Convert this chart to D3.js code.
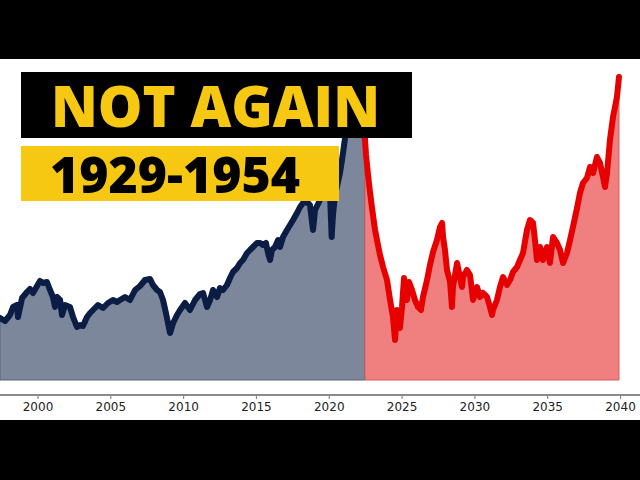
<!DOCTYPE html>
<html>
<head>
<meta charset="utf-8">
<script src="https://cdn.jsdelivr.net/npm/d3@7"></script>
<style>
  html, body { margin: 0; padding: 0; background: #fff; }
  svg { display: block; }
</style>
</head>
<body>
<svg id="chart" width="640" height="480"></svg>
<script>
// ---- data ----
const pastYears = [1997.43,1997.77,1998.11,1998.32,1998.59,1998.66,1998.94,1999.28,1999.48,1999.69,1999.97,2000.17,2000.38,2000.65,2000.86,2001.06,2001.20,2001.34,2001.55,2001.68,2001.89,2002.23,2002.44,2002.71,2002.92,2003.12,2003.40,2003.61,2003.95,2004.15,2004.50,2004.84,2005.18,2005.46,2005.67,2006.01,2006.35,2006.70,2007.04,2007.38,2007.73,2007.93,2008.21,2008.41,2008.62,2008.82,2008.96,2009.10,2009.31,2009.58,2009.79,2010.13,2010.47,2010.82,2011.16,2011.37,2011.64,2011.85,2012.05,2012.33,2012.53,2012.74,2013.01,2013.22,2013.42,2013.70,2013.91,2014.11,2014.39,2014.59,2014.80,2015.07,2015.28,2015.48,2015.69,2015.83,2015.97,2016.10,2016.31,2016.52,2016.65,2016.86,2017.13,2017.34,2017.55,2017.82,2018.03,2018.23,2018.51,2018.71,2018.92,2019.06,2019.40,2019.74,2020.09,2020.20,2020.29,2020.43,2020.77,2020.91,2021.12,2021.46,2021.80,2022.01,2022.28,2022.49];
const pastValues = [62,59,65,73,75,63,82,88,91,87,94,99,97,98,90,83,73,83,80,65,75,73,63,53,55,54,63,67,72,75,72,77,80,78,80,83,80,90,94,100,101,95,90,88,80,67,57,47,57,65,70,77,70,80,86,87,73,80,90,83,92,90,95,102,108,112,117,120,127,130,133,137,137,135,137,127,120,130,133,140,133,143,150,155,160,167,173,177,178,175,150,170,180,190,185,143,165,185,207,220,242,270,292,305,270,240];

const futureYears = [2022.49,2022.56,2022.70,2022.83,2022.97,2023.18,2023.38,2023.52,2023.73,2024.00,2024.21,2024.41,2024.55,2024.69,2024.89,2025.03,2025.17,2025.37,2025.51,2025.72,2025.92,2026.13,2026.33,2026.47,2026.75,2026.95,2027.16,2027.43,2027.64,2027.78,2027.85,2027.98,2028.12,2028.33,2028.46,2028.53,2028.81,2029.01,2029.15,2029.22,2029.49,2029.70,2029.91,2030.18,2030.39,2030.59,2030.87,2031.07,2031.21,2031.28,2031.55,2031.76,2031.97,2032.24,2032.45,2032.65,2032.93,2033.13,2033.34,2033.61,2033.82,2034.03,2034.16,2034.30,2034.51,2034.71,2034.99,2035.19,2035.40,2035.67,2035.88,2036.09,2036.36,2036.57,2036.77,2037.05,2037.25,2037.46,2037.73,2037.94,2038.15,2038.42,2038.63,2038.83,2038.97,2039.11,2039.31,2039.52,2039.79,2039.93];
const futureValues = [240,225,205,188,172,150,135,125,113,100,80,63,40,70,52,73,102,80,98,90,80,73,70,83,100,115,128,140,153,157,143,130,110,98,73,93,117,103,93,103,110,105,80,93,83,87,83,73,65,70,80,93,103,95,100,108,113,120,127,150,160,157,140,120,133,120,133,117,143,137,130,117,127,140,153,172,187,197,202,213,207,223,217,203,193,207,240,263,283,303];

const tickYears = [2000,2005,2010,2015,2020,2025,2030,2035,2040];
const titleText = "NOT AGAIN";
const subtitleText = "1929-1954";

// ---- drawing ----
const svg = d3.select("#chart");

const x = d3.scaleLinear().domain([2000, 2040]).range([37.5, 620]);
const y = d3.scaleLinear().domain([0, 310]).range([380, 70]);

const past = pastYears.map((d, i) => ({ t: d, v: pastValues[i] }));
const future = futureYears.map((d, i) => ({ t: d, v: futureValues[i] }));

const area = d3.area().x(d => x(d.t)).y0(y(0)).y1(d => y(d.v));
const line = d3.line().x(d => x(d.t)).y(d => y(d.v));

const plot = svg.append("g");

plot.append("path").datum(past)
  .attr("d", area)
  .attr("fill", "#7c879c")
  .attr("stroke", "#56627c")
  .attr("stroke-width", 1);

plot.append("path").datum(future)
  .attr("d", area)
  .attr("fill", "#f08080")
  .attr("stroke", "#d85a5a")
  .attr("stroke-width", 1);

plot.append("path").datum(past)
  .attr("d", line)
  .attr("fill", "none")
  .attr("stroke", "#0b1d45")
  .attr("stroke-width", 6)
  .attr("stroke-linejoin", "round")
  .attr("stroke-linecap", "round");

plot.append("path").datum(future)
  .attr("d", line)
  .attr("fill", "none")
  .attr("stroke", "#e60000")
  .attr("stroke-width", 6)
  .attr("stroke-linejoin", "round")
  .attr("stroke-linecap", "round");

// x axis
const axis = d3.axisBottom(x).tickValues(tickYears).tickFormat(d3.format("d")).tickSize(4).tickSizeOuter(0);
const ax = svg.append("g").attr("transform", "translate(0,395)").call(axis);
ax.select(".domain").remove();
ax.insert("line", ":first-child").attr("x1", 0).attr("x2", 640).attr("y1", 0).attr("y2", 0)
  .attr("stroke", "#8a8a8a").attr("stroke-width", 2);
ax.selectAll(".tick line").attr("stroke", "#8a8a8a").attr("stroke-width", 1.2);
ax.selectAll(".tick text")
  .attr("font-family", "DejaVu Sans, sans-serif")
  .attr("font-size", 12)
  .attr("fill", "#222")
  .attr("y", 7);

// black letterbox bars
svg.append("rect").attr("x", 0).attr("y", 0).attr("width", 640).attr("height", 59).attr("fill", "#000");
svg.append("rect").attr("x", 0).attr("y", 420).attr("width", 640).attr("height", 60).attr("fill", "#000");

// title boxes
svg.append("rect").attr("x", 21).attr("y", 72).attr("width", 391).attr("height", 66).attr("fill", "#000");
svg.append("text").attr("x", 51).attr("y", 127)
  .attr("font-family", "Open Sans, sans-serif").attr("font-weight", 800)
  .attr("font-size", 57).attr("fill", "#f6c811")
  .attr("textLength", 329).attr("lengthAdjust", "spacingAndGlyphs")
  .text(titleText);

svg.append("rect").attr("x", 21).attr("y", 146).attr("width", 318).attr("height", 55).attr("fill", "#f6c811");
svg.append("text").attr("x", 50).attr("y", 193)
  .attr("font-family", "Open Sans, sans-serif").attr("font-weight", 800)
  .attr("font-size", 50).attr("fill", "#000")
  .attr("textLength", 250).attr("lengthAdjust", "spacingAndGlyphs")
  .text(subtitleText);
</script>
</body>
</html>
